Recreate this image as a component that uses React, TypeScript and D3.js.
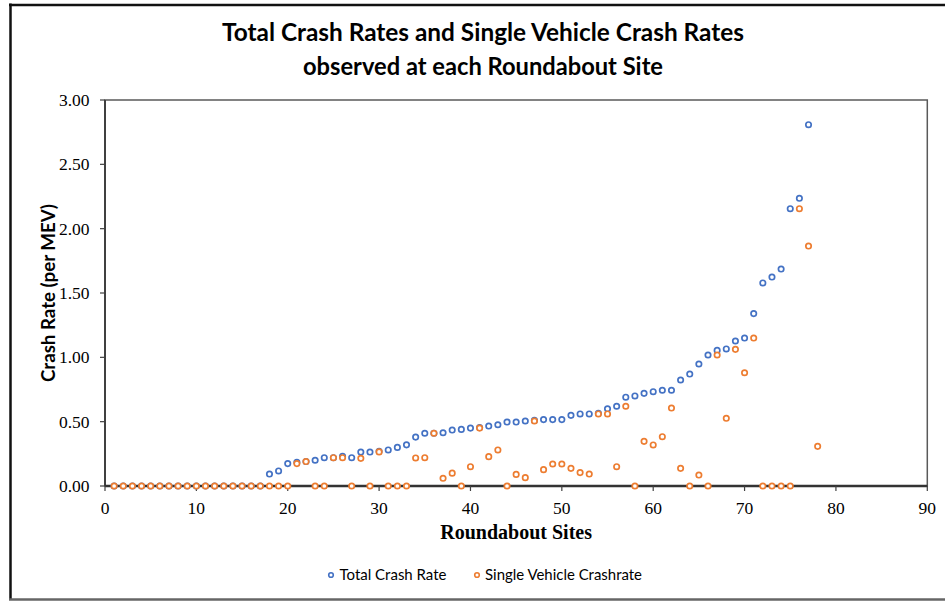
import React from "react";
import * as d3 from "d3";

const TITLE_LINES = ["Total Crash Rates and Single Vehicle Crash Rates", "observed at each Roundabout Site"];
const X_LABEL = "Roundabout Sites";
const Y_LABEL = "Crash Rate (per MEV)";
const SERIES_NAMES = ["Total Crash Rate", "Single Vehicle Crashrate"];
const X_TICKS = [0, 10, 20, 30, 40, 50, 60, 70, 80, 90];
const Y_TICKS = [0, 0.5, 1.0, 1.5, 2.0, 2.5, 3.0];

// Total crash rate, sites 1..77
const totalRate = [
  0, 0, 0, 0, 0, 0, 0, 0, 0, 0,
  0, 0, 0, 0, 0, 0, 0, 0.093, 0.117, 0.174,
  0.184, 0.19, 0.2, 0.22, 0.22, 0.23, 0.22, 0.264, 0.264, 0.27,
  0.28, 0.3, 0.32, 0.38, 0.41, 0.41, 0.414, 0.435, 0.44, 0.45,
  0.455, 0.466, 0.476, 0.497, 0.497, 0.505, 0.51, 0.516, 0.516, 0.516,
  0.549, 0.56, 0.56, 0.565, 0.6, 0.62, 0.69, 0.7, 0.72, 0.733,
  0.744, 0.744, 0.824, 0.87, 0.948, 1.018, 1.054, 1.065, 1.127, 1.15,
  1.34, 1.578, 1.624, 1.686, 2.155, 2.236, 2.808,
];

// Single vehicle crash rate, sites 1..78
const singleRate = [
  0, 0, 0, 0, 0, 0, 0, 0, 0, 0,
  0, 0, 0, 0, 0, 0, 0, 0, 0, 0,
  0.174, 0.19, 0, 0, 0.22, 0.22, 0, 0.215, 0, 0.265,
  0, 0, 0, 0.218, 0.22, 0.41, 0.06, 0.1, 0, 0.15,
  0.45, 0.228, 0.28, 0, 0.09, 0.065, 0.505, 0.127, 0.171, 0.171,
  0.137, 0.104, 0.093, 0.56, 0.56, 0.15, 0.62, 0, 0.347, 0.319,
  0.383, 0.606, 0.137, 0, 0.085, 0, 1.018, 0.526, 1.062, 0.88,
  1.15, 0, 0, 0, 0, 2.155, 1.865, 0.308,
];

const BLUE = "#4472C4";
const ORANGE = "#ED7D31";
const SANS = "Lato, 'Open Sans', sans-serif";
const SERIF = "'Liberation Serif', 'Times New Roman', serif";

export default function App() {
  const W = 945, H = 602;
  const left = 105, right = 927.3, top = 100, bottom = 486;
  const x = d3.scaleLinear().domain([0, 90]).range([left, right]);
  const y = d3.scaleLinear().domain([0, 3]).range([bottom, top]);
  const fmt = d3.format(".2f");

  const totalPts = totalRate.map((v, i) => ({ s: i + 1, v }));
  const singlePts = singleRate.map((v, i) => ({ s: i + 1, v }));

  return (
    <svg width={W} height={H} style={{ position: "absolute", left: 0, top: 0, display: "block", background: "#fff" }}>
      {/* outer frame */}
      <line x1={10.5} x2={10.5} y1={3.5} y2={600} stroke="#111" strokeWidth={2.5} />
      <line x1={9} x2={945} y1={5} y2={5} stroke="#111" strokeWidth={2.5} />
      <line x1={9} x2={945} y1={599.5} y2={599.5} stroke="#666" strokeWidth={2.5} />

      {/* title */}
      {TITLE_LINES.map((t, i) => (
        <text key={i} x={483} y={41 + i * 34} textAnchor="middle" fontFamily={SANS} fontWeight={700}
          fontSize={25} fill="#000" textLength={i === 0 ? 522 : 360} lengthAdjust="spacingAndGlyphs">{t}</text>
      ))}

      {/* plot frame */}
      <rect x={left} y={top} width={right - left} height={bottom - top} fill="none" stroke="#595959" strokeWidth={1.5} />
      <line x1={left} x2={left} y1={top} y2={bottom} stroke="#404040" strokeWidth={2} />
      <line x1={left} x2={right} y1={bottom} y2={bottom} stroke="#333" strokeWidth={2.5} />

      {/* y ticks */}
      {Y_TICKS.map((t) => (
        <g key={t}>
          <line x1={left - 5} x2={left} y1={y(t)} y2={y(t)} stroke="#404040" strokeWidth={1.2} />
          <text x={89.5} y={y(t)} dy="0.34em" textAnchor="end" fontFamily={SERIF} fontSize={17.5} fill="#000">{fmt(t)}</text>
        </g>
      ))}

      {/* x ticks */}
      {X_TICKS.map((t) => (
        <g key={t}>
          <line x1={x(t)} x2={x(t)} y1={bottom} y2={bottom + 5} stroke="#404040" strokeWidth={1.2} />
          <text x={x(t)} y={513.5} textAnchor="middle" fontFamily={SERIF} fontSize={17.5} fill="#000">{t}</text>
        </g>
      ))}

      {/* axis titles */}
      <text x={(left + right) / 2} y={538.5} textAnchor="middle" fontFamily={SERIF} fontWeight={700} fontSize={20} fill="#000">{X_LABEL}</text>
      <text transform={`translate(55,${(top + bottom) / 2}) rotate(-90)`} textAnchor="middle" fontFamily={SANS}
        fontWeight={700} fontSize={19} fill="#000" textLength={178} lengthAdjust="spacingAndGlyphs">{Y_LABEL}</text>

      {/* points */}
      <g>
        {totalPts.map((d) => (
          <circle key={"t" + d.s} cx={x(d.s)} cy={y(d.v)} r={2.7} fill="#fff" stroke={BLUE} strokeWidth={1.7} />
        ))}
      </g>
      <g>
        {singlePts.map((d) => (
          <circle key={"s" + d.s} cx={x(d.s)} cy={y(d.v)} r={2.7} fill="#fff" stroke={ORANGE} strokeWidth={1.7} />
        ))}
      </g>

      {/* legend */}
      <g>
        <circle cx={331} cy={575} r={2.3} fill="#fff" stroke={BLUE} strokeWidth={1.6} />
        <text x={339.5} y={580} fontFamily={SANS} fontSize={15} fill="#000" textLength={107} lengthAdjust="spacingAndGlyphs">{SERIES_NAMES[0]}</text>
        <circle cx={477} cy={575} r={2.3} fill="#fff" stroke={ORANGE} strokeWidth={1.6} />
        <text x={485} y={580} fontFamily={SANS} fontSize={15} fill="#000" textLength={157} lengthAdjust="spacingAndGlyphs">{SERIES_NAMES[1]}</text>
      </g>
    </svg>
  );
}
